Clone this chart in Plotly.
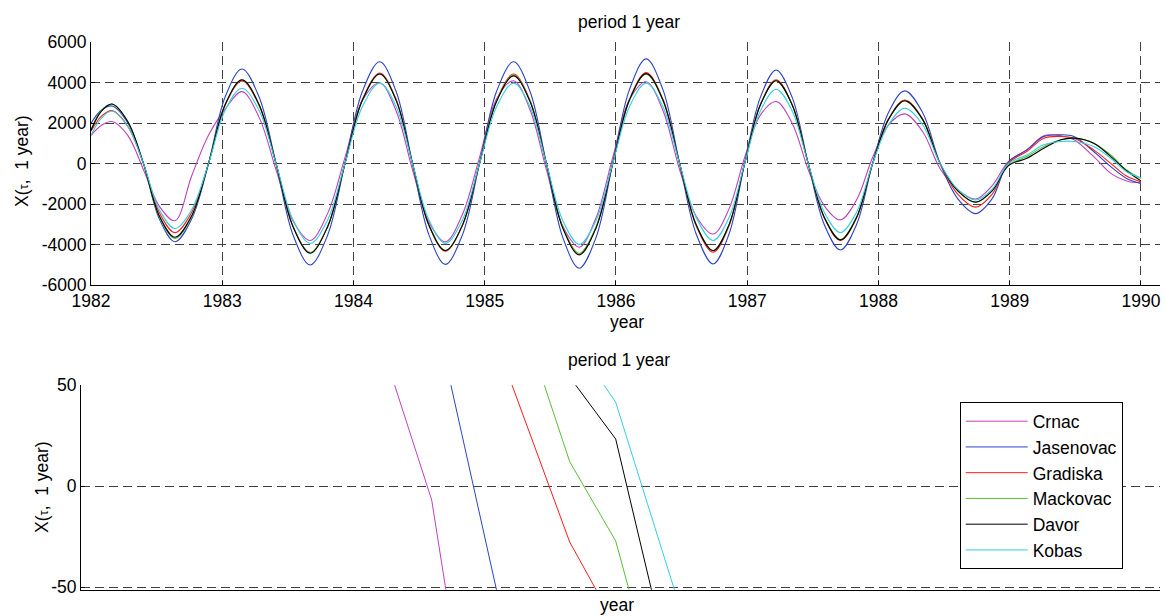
import plotly.graph_objects as go

# ---------------- data ----------------
series_names = ["Crnac", "Jasenovac", "Gradiska", "Mackovac", "Davor", "Kobas"]
series_colors = ["#c040c0", "#2a44c4", "#ff1a1a", "#55c030", "#000000", "#30d0e0"]

# sample times (decimal years) of the upper panel
years = [1982.00, 1982.08, 1982.16, 1982.28, 1982.40, 1982.52, 1982.64, 1982.7675,
         1982.895, 1983.0225, 1983.15, 1983.28, 1983.41, 1983.54, 1983.67, 1983.8025,
         1983.935, 1984.0675, 1984.20, 1984.325, 1984.45, 1984.575, 1984.70, 1984.83,
         1984.96, 1985.09, 1985.22, 1985.345, 1985.47, 1985.595, 1985.72, 1985.8475,
         1985.975, 1986.1025, 1986.23, 1986.3575, 1986.485, 1986.6125, 1986.74, 1986.86,
         1986.98, 1987.10, 1987.22, 1987.3425, 1987.465, 1987.5875, 1987.71, 1987.8325,
         1987.955, 1988.0775, 1988.20, 1988.335, 1988.47, 1988.605, 1988.74, 1988.865,
         1988.99, 1989.13, 1989.26, 1989.39, 1989.49, 1989.64, 1989.77, 1989.89, 1990.00]

crnac = [1400, 1900, 2080, 1400, -300, -2100, -2820, -600,
         1400, 2700, 3560, 2300, -300, -2850, -3800, -2470,
         300, 3120, 4000, 2600, -300, -2900, -3870, -2515,
         300, 3200, 4100, 2665, -300, -3100, -4130, -2685,
         300, 3160, 4050, 2630, -300, -2610, -3480, -2260,
         300, 2400, 3070, 2000, -300, -2085, -2780, -1800,
         300, 1920, 2460, 1600, -250, -1300, -1750, -1100,
         100, 680, 1380, 1380, 1180, 350, -480, -860, -950]

jasenovac = [2000, 2650, 2850, 2015, 0, -2730, -3860, -2730,
             0, 3310, 4680, 3310, 0, -3540, -5010, -3540,
             0, 3565, 5040, 3565, 0, -3520, -4980, -3520,
             0, 3565, 5040, 3565, 0, -3655, -5170, -3655,
             0, 3660, 5180, 3660, 0, -3505, -4960, -3505,
             0, 3275, 4630, 3275, 0, -3020, -4270, -3020,
             0, 2545, 3600, 2545, 0, -1745, -2470, -1745,
             80, 680, 1345, 1430, 1345, 600, -150, -730, -980]

gradiska = [1600, 2350, 2620, 1850, 0, -2410, -3410, -2410,
            0, 2890, 4090, 2890, 0, -3110, -4400, -3110,
            0, 3170, 4480, 3170, 0, -3060, -4330, -3060,
            0, 3130, 4430, 3130, 0, -3145, -4450, -3145,
            0, 3180, 4500, 3180, 0, -3095, -4380, -3095,
            0, 2925, 4140, 2925, 0, -2685, -3800, -2685,
            0, 2225, 3150, 2225, 0, -1520, -2150, -1520,
            30, 600, 1260, 1345, 1260, 680, 15, -615, -900]

mackovac = [1700, 2650, 2950, 2085, 0, -2615, -3700, -2615,
            0, 2935, 4150, 2935, 0, -3110, -4400, -3110,
            0, 3130, 4430, 3130, 0, -3040, -4300, -3040,
            0, 3095, 4380, 3095, 0, -3145, -4450, -3145,
            0, 3125, 4420, 3125, 0, -3040, -4300, -3040,
            0, 2900, 4100, 2900, 0, -2650, -3750, -2650,
            0, 2190, 3100, 2190, 0, -1360, -1920, -1360,
            -80, 350, 850, 1180, 1260, 1010, 430, -315, -730]

davor = [1650, 2600, 2950, 2085, 0, -2575, -3640, -2575,
         0, 2925, 4140, 2925, 0, -3130, -4430, -3130,
         0, 3130, 4430, 3130, 0, -3040, -4300, -3040,
         0, 3070, 4340, 3070, 0, -3190, -4510, -3190,
         0, 3145, 4450, 3145, 0, -3040, -4300, -3040,
         0, 2900, 4100, 2900, 0, -2665, -3770, -2665,
         0, 2200, 3110, 2200, 0, -1345, -1900, -1345,
         -100, 265, 760, 1180, 1260, 1010, 350, -350, -850]

kobas = [1400, 2250, 2600, 1840, 0, -2270, -3210, -2270,
         0, 2640, 3730, 2640, 0, -2785, -3940, -2785,
         0, 2815, 3980, 2815, 0, -2785, -3940, -2785,
         0, 2815, 3980, 2815, 0, -2820, -3990, -2820,
         0, 2815, 3980, 2815, 0, -2685, -3800, -2685,
         0, 2600, 3680, 2600, 0, -2410, -3410, -2410,
         0, 1935, 2740, 1935, 0, -1275, -1800, -1275,
         0, 430, 930, 1095, 1095, 850, 265, -400, -700]

# lower panel: a few daily samples around one descending zero crossing
zoom_days = [1264, 1265, 1266, 1267, 1268, 1269, 1270, 1271]   # days since 1982-01-01
zoom_crnac = [63.8, -6.8, -151.0, None, None, None, None, None]
zoom_jasenovac = [None, 92.8, -9.4, -111.7, None, None, None, None]
zoom_gradiska = [None, None, 96.4, 34.4, -27.6, -68.7, None, None]
zoom_mackovac = [None, None, None, 80.9, 12.2, -27.1, -110.3, None]
zoom_davor = [None, None, None, 110.0, 54.1, 23.4, -72.6, None]
zoom_kobas = [None, None, None, None, 75.0, 41.6, -31.1, -103.8]
zoom_view_days = [1257.376, 1280.833]

top_xticks = [1982, 1983, 1984, 1985, 1986, 1987, 1988, 1989, 1990]
top_xticktext = ["1982", "1983", "1984", "1985", "1986", "1987", "1988", "1989", "1990"]
top_yticks = [-6000, -4000, -2000, 0, 2000, 4000, 6000]
top_yticktext = ["-6000", "-4000", "-2000", "0", "2000", "4000", "6000"]
low_yticks = [-50, 0, 50]
low_yticktext = ["-50", "0", "50"]

title_text = "period 1 year"
xlabel_text = "year"
ylabel_text = "X(<span style='font-size:13px'>τ</span>,  1 year)"

# ---------------- figure ----------------
W, H = 1166, 616
FONT = "Liberation Sans, Arial, Helvetica, sans-serif"
FS = 17.5

top_values = [crnac, jasenovac, gradiska, mackovac, davor, kobas]
zoom_values = [zoom_crnac, zoom_jasenovac, zoom_gradiska, zoom_mackovac, zoom_davor, zoom_kobas]
zoom_years = [1982 + d / 365.25 for d in zoom_days]
zoom_range = [1982 + d / 365.25 for d in zoom_view_days]

fig = go.Figure()
for name, col, vals in zip(series_names, series_colors, top_values):
    fig.add_trace(go.Scatter(x=years, y=vals, mode="lines", name=name,
                             line=dict(color=col, width=1.1, shape="spline", smoothing=1.0),
                             showlegend=False, xaxis="x", yaxis="y", hoverinfo="skip"))
for name, col, vals in zip(series_names, series_colors, zoom_values):
    fig.add_trace(go.Scatter(x=zoom_years, y=vals, mode="lines", name=name,
                             line=dict(color=col, width=1), legendgroup=name,
                             showlegend=True, xaxis="x2", yaxis="y2", hoverinfo="skip"))

def px_x(p):
    return p / W

def px_y(p):
    return 1 - p / H

grid = dict(showgrid=True, gridcolor="#404040", gridwidth=1, griddash="9px,5px", zeroline=False)
axis_common = dict(showline=True, linecolor="#000000", linewidth=1, ticks="inside", ticklen=4,
                   tickcolor="#000000", automargin=False,
                   tickfont=dict(family=FONT, size=FS, color="#000"))

fig.update_layout(
    width=W, height=H, margin=dict(l=0, r=0, t=0, b=0, pad=0, autoexpand=False),
    paper_bgcolor="white", plot_bgcolor="white",
    font=dict(family=FONT, size=FS, color="#000"),
    xaxis=dict(domain=[px_x(91), px_x(1160)], range=[1982, 1990.145], anchor="y",
               tickvals=top_xticks, ticktext=top_xticktext, **grid, **axis_common),
    yaxis=dict(domain=[px_y(285), px_y(42.3)], range=[-6000, 6000], anchor="x",
               tickvals=top_yticks, ticktext=top_yticktext, **grid, **axis_common),
    xaxis2=dict(domain=[px_x(81), px_x(1160)], range=zoom_range, anchor="y2",
                showgrid=False, zeroline=False, showticklabels=False, ticks="",
                showline=True, linecolor="#000000", linewidth=1, automargin=False),
    yaxis2=dict(domain=[px_y(589.7), px_y(385.3)], range=[-51.2, 50], anchor="x2",
                tickvals=low_yticks, ticktext=low_yticktext, **grid, **axis_common),
    legend=dict(x=px_x(959.7), y=px_y(402.3), xanchor="left", yanchor="top",
                bgcolor="white", bordercolor="#000000", borderwidth=1,
                font=dict(family=FONT, size=FS, color="#000"),
                traceorder="grouped", tracegroupgap=0, itemwidth=62),
    showlegend=True,
)

ann = [
    dict(text=title_text, x=px_x(629), y=px_y(22), xanchor="center", yanchor="middle"),
    dict(text=xlabel_text, x=px_x(627), y=px_y(322), xanchor="center", yanchor="middle"),
    dict(text=title_text, x=px_x(619), y=px_y(360), xanchor="center", yanchor="middle"),
    dict(text=xlabel_text, x=px_x(617), y=px_y(605), xanchor="center", yanchor="middle"),
    dict(text=ylabel_text, x=px_x(22), y=px_y(161), xanchor="center", yanchor="middle", textangle=-90),
    dict(text=ylabel_text, x=px_x(42), y=px_y(487), xanchor="center", yanchor="middle", textangle=-90),
]
for a in ann:
    fig.add_annotation(xref="paper", yref="paper", showarrow=False,
                       font=dict(family=FONT, size=FS, color="#000"), **a)

fig.write_html("out.html",
               config={"displayModeBar": False, "staticPlot": True},
               post_script="document.body.style.margin='0';document.body.style.overflow='hidden';")
